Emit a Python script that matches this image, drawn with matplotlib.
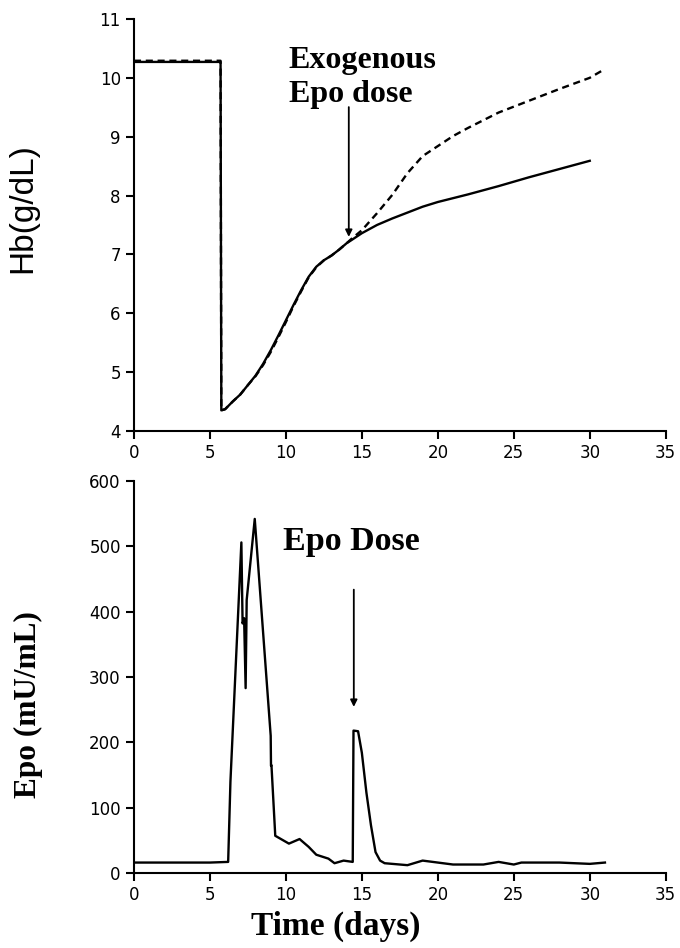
import matplotlib
matplotlib.use("Agg")
import matplotlib.pyplot as plt

# ---- Data: Hb (top panel) ----
hb_t_common = [0, 5.7, 5.75, 6.0, 6.5, 7.0, 7.5, 8.0, 8.5, 9.0, 9.5, 10.0, 10.5, 11.0, 11.5, 12.0, 12.5, 13.0, 13.5, 14.0, 14.3]
hb_common = [10.27, 10.27, 4.35, 4.37, 4.50, 4.62, 4.78, 4.94, 5.14, 5.37, 5.62, 5.88, 6.14, 6.39, 6.62, 6.79, 6.90, 6.98, 7.08, 7.19, 7.24]
hb_dash_common = [10.29, 10.29, 4.35, 4.37, 4.50, 4.62, 4.78, 4.93, 5.12, 5.34, 5.59, 5.85, 6.12, 6.37, 6.61, 6.78, 6.90, 6.98, 7.08, 7.19, 7.26]

hb_t_solid = [15, 16, 17, 18, 19, 20, 22, 24, 26, 28, 30]
hb_solid = [7.36, 7.50, 7.61, 7.71, 7.81, 7.89, 8.02, 8.16, 8.31, 8.45, 8.59]

hb_t_dash = [15, 16, 17, 18, 19, 20, 21, 22, 24, 26, 28, 30, 30.8]
hb_dash = [7.41, 7.70, 8.01, 8.38, 8.67, 8.84, 9.01, 9.15, 9.41, 9.61, 9.81, 10.00, 10.12]

# ---- Data: Epo (bottom panel) ----
epo_t = [0, 5.0, 6.2, 6.35, 7.07, 7.15, 7.25, 7.35, 7.42, 7.95, 9.0, 9.02, 9.05, 9.3, 10.2, 10.9, 11.5, 12.0,
         12.8, 13.2, 13.8, 14.4, 14.45, 14.75, 15.0, 15.3, 15.6, 15.9, 16.2, 16.5, 17, 18, 19, 20, 21, 22, 23,
         24, 25, 25.5, 28, 30, 31]
epo = [16, 16, 17, 140, 506, 382, 390, 283, 418, 542, 210, 164, 165, 57, 45, 52, 40, 28,
       22, 15, 19, 17, 218, 217, 184, 123, 73, 32, 19, 15, 14, 12, 19, 16, 13, 13, 13,
       17, 13, 16, 16, 14, 16]

x_ticks = [0, 5, 10, 15, 20, 25, 30, 35]
hb_ticks = [4, 5, 6, 7, 8, 9, 10, 11]
epo_ticks = [0, 100, 200, 300, 400, 500, 600]

dose_day_top = 14.14
dose_day_bottom = 14.47

fig = plt.figure(figsize=(6.8, 9.48), dpi=100)
ax1 = fig.add_axes([0.197, 0.5454, 0.782, 0.4346])
ax2 = fig.add_axes([0.197, 0.0791, 0.782, 0.4135])

serif_bold = dict(family="Liberation Serif", weight="bold")

for ax in (ax1, ax2):
    for s in ("top", "right"):
        ax.spines[s].set_visible(False)
    for s in ("left", "bottom"):
        ax.spines[s].set_linewidth(1.5)
    ax.tick_params(direction="out", length=6, width=1.5, labelsize=12)
    ax.set_xlim(0, 35)
    ax.set_xticks(x_ticks)

# top panel
ax1.plot(hb_t_common + hb_t_solid, hb_common + hb_solid, color="black", lw=1.7, solid_joinstyle="round")
ax1.plot(hb_t_common + hb_t_dash, hb_dash_common + hb_dash, color="black", lw=1.7, ls=(0, (3, 2)))
ax1.set_ylim(4, 11)
ax1.set_yticks(hb_ticks)
ax1.set_ylabel("Hb(g/dL)", family="Liberation Sans", fontsize=24)
ax1.yaxis.set_label_coords(-0.180, 0.54)
ax1.text(10.2, 10.29, "Exogenous", ha="left", va="center", fontsize=23, **serif_bold)
ax1.text(10.2, 9.72, "Epo dose", ha="left", va="center", fontsize=23, **serif_bold)
ax1.annotate("", xy=(dose_day_top, 7.25), xytext=(dose_day_top, 9.55),
             arrowprops=dict(arrowstyle="-|>", color="black", lw=1.3, mutation_scale=10))

# bottom panel
ax2.plot(epo_t, epo, color="black", lw=1.7)
ax2.set_ylim(0, 600)
ax2.set_yticks(epo_ticks)
ax2.set_ylabel("Epo (mU/mL)", fontsize=22.5, **serif_bold)
ax2.yaxis.set_label_coords(-0.171, 0.43)
ax2.set_xlabel("Time (days)", fontsize=24, **serif_bold)
ax2.xaxis.set_label_coords(0.38, -0.097)
ax2.text(9.8, 507, "Epo Dose", ha="left", va="center", fontsize=24.5, **serif_bold)
ax2.annotate("", xy=(dose_day_bottom, 250), xytext=(dose_day_bottom, 438),
             arrowprops=dict(arrowstyle="-|>", color="black", lw=1.3, mutation_scale=10))

for ax in (ax1, ax2):
    for lab in ax.get_xticklabels() + ax.get_yticklabels():
        lab.set_family("DejaVu Sans")

fig.savefig("out.png", dpi=100)
